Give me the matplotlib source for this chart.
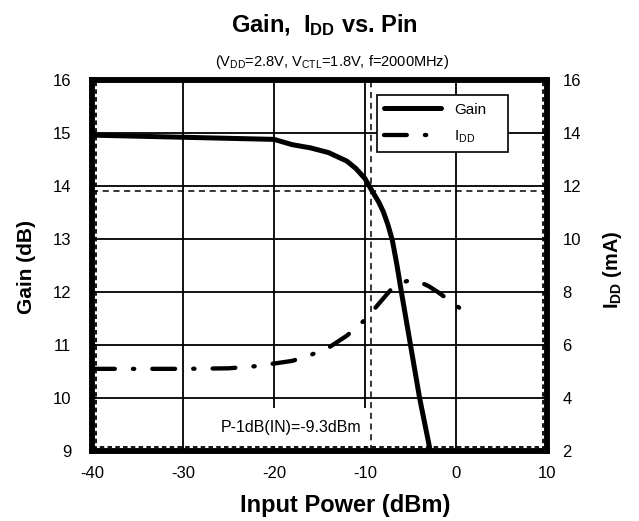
import matplotlib
matplotlib.use("Agg")
import matplotlib.pyplot as plt
from matplotlib.transforms import offset_copy

plt.rcParams['font.family'] = ['Liberation Sans', 'DejaVu Sans']
plt.rcParams['mathtext.default'] = 'regular'
plt.rcParams['axes.unicode_minus'] = False

# Gain vs input power
pin_gain = [-40, -35, -30, -25, -20, -18, -16, -14, -13, -12, -11, -10, -9.3,
            -8.5, -8, -7.5, -7, -6.5, -6, -5, -4, -3, -2.5]
gain_db = [14.96, 14.94, 14.92, 14.9, 14.88, 14.78, 14.72, 14.63, 14.55, 14.47,
           14.33, 14.14, 13.93, 13.7, 13.52, 13.28, 12.98, 12.52, 12.0, 11.0,
           10.0, 9.15, 8.7]

# Supply current vs input power
pin_idd = [-40, -35, -30, -25, -22, -20, -18, -16, -14, -12, -10, -8.5, -7,
           -6, -5, -4, -3, -2, -1, 0, 1.3]
idd_ma = [5.1, 5.1, 5.1, 5.12, 5.2, 5.3, 5.4, 5.62, 5.9, 6.35, 6.95, 7.55, 8.15,
          8.35, 8.45, 8.38, 8.22, 8.0, 7.75, 7.5, 7.15]

p1db_pin = -9.3
p1db_gain = 13.9

x_ticks = [-40, -30, -20, -10, 0, 10]
gain_ticks = [9, 10, 11, 12, 13, 14, 15, 16]
idd_ticks = [2, 4, 6, 8, 10, 12, 14, 16]

fig = plt.figure(figsize=(6.39, 5.21), dpi=100)
ax = fig.add_axes([0.144, 0.1344, 0.712, 0.712])
ax2 = ax.twinx()

ax.set_xlim(x_ticks[0], x_ticks[-1])
ax.set_ylim(gain_ticks[0], gain_ticks[-1])
ax2.set_ylim(idd_ticks[0], idd_ticks[-1])
ax.set_xticks(x_ticks)
ax.set_yticks(gain_ticks)
ax2.set_yticks(idd_ticks)
ax.grid(True, color='black', lw=1.3)
ax.set_axisbelow(True)

# P-1dB reference lines
ax.axhline(p1db_gain, color='black', lw=1.1, ls=(0, (4, 3)), zorder=3.5)
ax.axvline(p1db_pin, color='black', lw=1.1, ls=(0, (4, 3)), zorder=3.5)
ax.text(-18.1, 9.45, 'P-1dB(IN)=-9.3dBm', fontsize=11.5, ha='center',
        va='center', zorder=3,
        bbox=dict(facecolor='white', edgecolor='none', pad=8))

gain_line, = ax.plot(pin_gain, gain_db, color='black', lw=3.6,
                     solid_capstyle='round', solid_joinstyle='round', zorder=4)
idd_line, = ax2.plot(pin_idd, idd_ma, color='black', lw=3.1,
                     dashes=(5.3, 4.2, 0.3, 4.2), dash_capstyle='round')

# frame: thick spines with a thin dashed line just inside
for a in (ax, ax2):
    for s in a.spines.values():
        s.set_linewidth(4)
        s.set_color('black')
for dx, dy, xs, ys in [(4, 0, [0, 0], [0, 1]), (-4, 0, [1, 1], [0, 1]),
                       (0, 4, [0, 1], [0, 0])]:
    tr = offset_copy(ax.transAxes, fig=fig, x=dx, y=dy, units='dots')
    ax.plot(xs, ys, transform=tr, color='black', lw=1.3, dashes=(2.5, 1.8),
            clip_on=False, zorder=3.6)

ax.tick_params(axis='y', direction='in', length=3, width=1.5, pad=15,
               labelsize=12)
ax.tick_params(axis='x', direction='in', length=3, width=1.5, pad=11,
               labelsize=12)
ax2.tick_params(axis='y', direction='in', length=3, width=1.5, pad=11,
                labelsize=12)

leg = ax2.legend([gain_line, idd_line], ['Gain', '$I_{DD}$'], fontsize=11,
                 loc='upper left', bbox_to_anchor=(0.626, 0.802, 0.289, 0.158),
                 mode='expand', borderaxespad=0, handlelength=3.7,
                 handletextpad=0.85, labelspacing=0.76, borderpad=0.5,
                 fancybox=False, framealpha=1, edgecolor='black')
leg.get_frame().set_linewidth(1.2)

fig.text(0.507, 1 - 25 / 521, 'Gain,  $I_{DD}$ vs. Pin', fontsize=17,
         fontweight='bold', ha='center', va='center')
fig.text(0.52, 1 - 62 / 521, '($V_{DD}$=2.8V, $V_{CTL}$=1.8V, f=2000MHz)',
         fontsize=10.5, ha='center', va='center')
fig.text(0.0407, 0.4875, 'Gain (dB)', fontsize=15, fontweight='bold',
         rotation=90, ha='center', va='center')
fig.text(0.958, 0.482, '$I_{DD}$ (mA)', fontsize=14.3, fontweight='bold',
         rotation=90, ha='center', va='center')
fig.text(0.54, 0.0307, 'Input Power (dBm)', fontsize=17, fontweight='bold',
         ha='center', va='center')

fig.savefig('out.png', dpi=100)
